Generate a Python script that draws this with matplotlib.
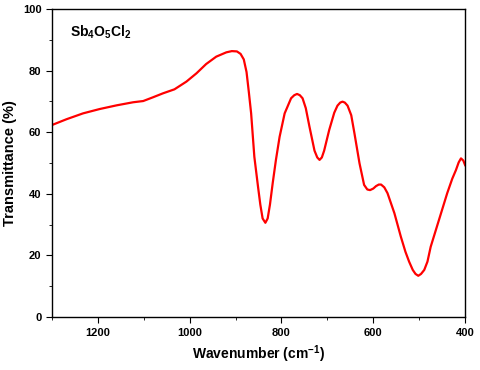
import numpy as np
import matplotlib
matplotlib.use('Agg')
import matplotlib.pyplot as plt
from matplotlib.ticker import MultipleLocator

plt.rcParams['font.family'] = 'Liberation Sans'
plt.rcParams['font.weight'] = 'bold'
plt.rcParams['mathtext.fontset'] = 'custom'
plt.rcParams['mathtext.rm'] = 'Liberation Sans:bold'
plt.rcParams['mathtext.bf'] = 'Liberation Sans:bold'
plt.rcParams['mathtext.default'] = 'bf'

# FTIR spectrum
wavenumber = [1300, 1268, 1232, 1196, 1159, 1123, 1101, 1080, 1058, 1033, 1007,
              985, 964, 942, 920, 908, 897, 889, 882, 876, 871, 866, 859, 851,
              846, 841, 835, 830, 825, 819, 812, 804, 793, 779, 772, 766, 760,
              754, 747, 739, 728, 722, 717, 712, 707, 696, 685, 678, 672, 667,
              662, 656, 648, 641, 630, 620, 613, 607, 600, 594, 588, 583, 576,
              569, 554, 540, 530, 522, 514, 508, 502, 496, 489, 482, 475, 457,
              439, 428, 420, 414, 409, 404, 400]
transmittance = [62.3, 64.2, 66.1, 67.5, 68.7, 69.7, 70.1, 71.3, 72.6, 73.9, 76.4,
                 79.1, 82.1, 84.5, 85.9, 86.3, 86.2, 85.4, 83.6, 79.5, 73.0, 66.1, 52.0, 42.3,
                 36.5, 32.0, 30.6, 32.0, 36.5, 43.5, 51.0, 58.5, 66.1, 71.0, 72.0, 72.4, 72.0,
                 71.0, 67.8, 61.8, 54.0, 51.8, 51.0, 51.8, 54.0, 60.7, 66.3, 68.6, 69.6, 69.9,
                 69.6, 68.6, 65.5, 59.6, 49.9, 42.9, 41.4, 41.2, 41.7, 42.5, 43.0, 43.0, 42.1,
                 40.2, 33.7, 26.1, 21.2, 18.0, 15.3, 14.0, 13.4, 14.0, 15.3, 18.0, 22.8, 31.5,
                 40.2, 44.9, 47.7, 50.2, 51.5, 50.8, 49.3]

fig = plt.figure(figsize=(4.8, 3.7), dpi=100)
ax = fig.add_axes([0.108, 0.143, 0.861, 0.833])

ax.plot(wavenumber, transmittance, color='red', lw=1.6, solid_joinstyle='round')

ax.set_xlim(1300, 400)
ax.set_ylim(0, 100)
ax.xaxis.set_major_locator(MultipleLocator(200))
ax.xaxis.set_minor_locator(MultipleLocator(100))
ax.yaxis.set_major_locator(MultipleLocator(20))
ax.yaxis.set_minor_locator(MultipleLocator(10))
ax.tick_params(which='both', direction='out', top=False, right=False, labelsize=8)
ax.tick_params(which='major', length=4)
ax.tick_params(which='minor', length=2.5)
for sp in ax.spines.values():
    sp.set_linewidth(1.0)

ax.set_xlabel('Wavenumber (cm$^{-1}$)', fontsize=10, fontweight='bold')
ax.set_ylabel('Transmittance (%)', fontsize=10.5, fontweight='bold')
ax.text(0.045, 0.925, 'Sb$_4$O$_5$Cl$_2$', transform=ax.transAxes,
        fontsize=10, fontweight='bold', va='center')

fig.savefig('out.png', dpi=100)
